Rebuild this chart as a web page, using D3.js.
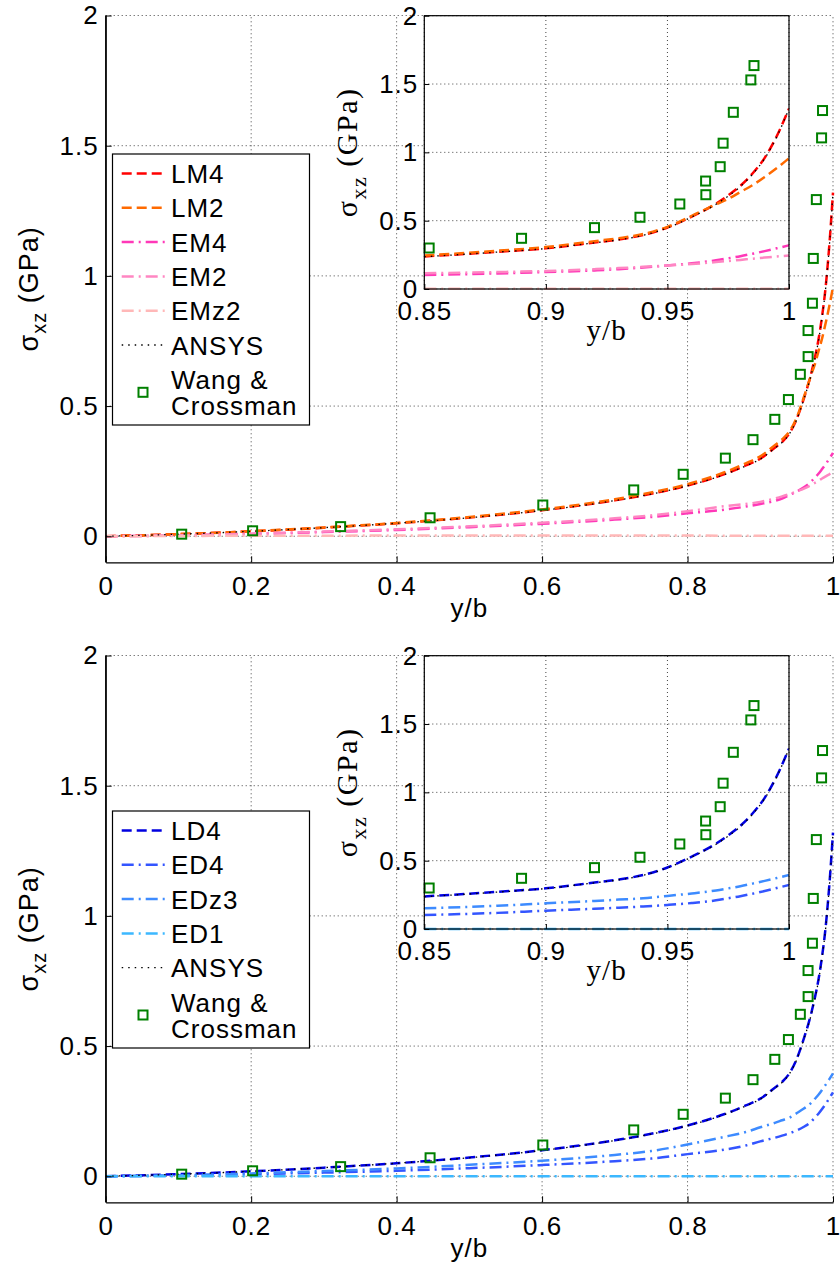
<!DOCTYPE html>
<html><head><meta charset="utf-8">
<script src="https://cdn.jsdelivr.net/npm/d3@7"></script>
<style>body{margin:0;background:#fff}svg{display:block}</style>
</head><body>
<script>
// ---------- DATA ----------
const xGrid = [0, 0.1, 0.2, 0.3, 0.4, 0.5, 0.6, 0.7, 0.75, 0.8, 0.85, 0.88, 0.9, 0.92, 0.93, 0.94, 0.95, 0.96, 0.97, 0.975, 0.98, 0.985, 0.99, 0.995, 1.0];

const LM4  = [0, 0.008, 0.019, 0.033, 0.05, 0.072, 0.10, 0.138, 0.163, 0.195, 0.238, 0.272, 0.298, 0.34, 0.362, 0.395, 0.45, 0.53, 0.625, 0.685, 0.755, 0.845, 0.96, 1.12, 1.32];
const LM2  = [0, 0.008, 0.019, 0.034, 0.051, 0.074, 0.103, 0.142, 0.168, 0.2, 0.245, 0.28, 0.307, 0.35, 0.372, 0.402, 0.455, 0.535, 0.62, 0.66, 0.71, 0.76, 0.82, 0.885, 0.957];
const EM4  = [0, 0.003, 0.009, 0.016, 0.024, 0.035, 0.048, 0.064, 0.074, 0.088, 0.102, 0.114, 0.124, 0.136, 0.145, 0.158, 0.172, 0.188, 0.21, 0.225, 0.24, 0.258, 0.277, 0.298, 0.32];
const EM2  = [0, 0.004, 0.01, 0.018, 0.027, 0.038, 0.052, 0.069, 0.08, 0.096, 0.115, 0.124, 0.132, 0.145, 0.153, 0.162, 0.172, 0.183, 0.197, 0.205, 0.213, 0.222, 0.23, 0.238, 0.245];
const EMz2 = [0, 0.001, 0.002, 0.002, 0.003, 0.003, 0.003, 0.003, 0.003, 0.003, 0.002, 0.002, 0.002, 0.002, 0.002, 0.002, 0.002, 0.002, 0.002, 0.002, 0.002, 0.002, 0.002, 0.002, 0.002];
const ANSYS = [0, 0.008, 0.019, 0.033, 0.05, 0.071, 0.099, 0.137, 0.162, 0.194, 0.236, 0.27, 0.296, 0.338, 0.36, 0.393, 0.447, 0.527, 0.62, 0.68, 0.75, 0.84, 0.955, 1.115, 1.32];

const LD4  = [0, 0.008, 0.019, 0.033, 0.05, 0.072, 0.10, 0.138, 0.163, 0.195, 0.238, 0.272, 0.298, 0.34, 0.362, 0.395, 0.45, 0.53, 0.625, 0.685, 0.755, 0.845, 0.96, 1.12, 1.32];
const ED4  = [0, 0.003, 0.008, 0.014, 0.021, 0.031, 0.043, 0.058, 0.068, 0.085, 0.102, 0.118, 0.134, 0.148, 0.156, 0.165, 0.176, 0.19, 0.21, 0.225, 0.24, 0.258, 0.278, 0.3, 0.322];
const EDz3 = [0, 0.004, 0.011, 0.02, 0.03, 0.044, 0.06, 0.082, 0.097, 0.122, 0.151, 0.17, 0.188, 0.205, 0.215, 0.225, 0.242, 0.26, 0.282, 0.297, 0.313, 0.332, 0.352, 0.373, 0.395];
const ED1  = [0, 0, 0, 0, 0, 0, 0, 0, 0, 0, 0, 0, 0, 0, 0, 0, 0, 0, 0, 0, 0, 0, 0, 0, 0];

const wangX = [0.1045, 0.202, 0.323, 0.446, 0.601, 0.726, 0.794, 0.852, 0.890, 0.920, 0.9387, 0.9551, 0.9658, 0.9657, 0.9717, 0.9729, 0.9771, 0.9843, 0.9856];
const wangY = [0.008, 0.021, 0.037, 0.071, 0.12, 0.178, 0.238, 0.30, 0.371, 0.449, 0.525, 0.622, 0.69, 0.79, 0.895, 1.067, 1.293, 1.53, 1.635];

const mainXTicks = [0, 0.2, 0.4, 0.6, 0.8, 1];
const mainYTicks = [0, 0.5, 1, 1.5, 2];
const insetXTicks = [0.85, 0.9, 0.95, 1];
const insetYTicks = [0, 0.5, 1, 1.5, 2];

const topSeries = [
  {name: "LM4", y: LM4, color: "#ff0000", dash: "10,5"},
  {name: "LM2", y: LM2, color: "#ff6a00", dash: "10,5"},
  {name: "EM4", y: EM4, color: "#ff38b8", dash: "12,5,2,5"},
  {name: "EM2", y: EM2, color: "#ff86c2", dash: "12,5,2,5"},
  {name: "EMz2", y: EMz2, color: "#ffb8b8", dash: "12,5,2,5"},
  {name: "ANSYS", y: ANSYS, color: "#000000", dash: "1.5,5", dotted: true}
];
const bottomSeries = [
  {name: "LD4", y: LD4, color: "#0000e0", dash: "10,5"},
  {name: "ED4", y: ED4, color: "#3355ff", dash: "12,5,2,5"},
  {name: "EDz3", y: EDz3, color: "#3d8bff", dash: "12,5,2,5"},
  {name: "ED1", y: ED1, color: "#3cb8ff", dash: "12,5,2,5"},
  {name: "ANSYS", y: ANSYS, color: "#000000", dash: "1.5,5", dotted: true}
];

// ---------- DRAW ----------
const W = 840, H = 1271;
const svg = d3.select("body").append("svg").attr("width", W).attr("height", H);
const SANS = "'Liberation Sans', Arial, sans-serif";
const SERIF = "'Liberation Serif', 'Times New Roman', serif";

let clipId = 0;
function drawPanel(oy, series, legendTop, legendH) {
  const g = svg.append("g").attr("transform", `translate(0,${oy})`);

  const x = d3.scaleLinear().domain([0, 1]).range([105.7, 833]);
  const y = d3.scaleLinear().domain([-0.1, 2]).range([562.3, 15.5]);

  const grid = g.append("g").attr("stroke", "#444").attr("stroke-width", 1).attr("stroke-dasharray", "1,3");
  mainXTicks.filter(t => t > 0).forEach(t => grid.append("line").attr("x1", x(t)).attr("x2", x(t)).attr("y1", y(-0.1)).attr("y2", y(2)));
  mainYTicks.forEach(t => grid.append("line").attr("x1", x(0)).attr("x2", x(1)).attr("y1", y(t)).attr("y2", y(t)));

  const cid = "clip" + (clipId++);
  g.append("clipPath").attr("id", cid).append("rect").attr("x", x(0)).attr("y", 0).attr("width", x(1) - x(0) + 8).attr("height", y(-0.1));

  const dataG = g.append("g").attr("clip-path", `url(#${cid})`);
  drawSeries(dataG, series, x, y, d => true);
  drawMarkers(dataG, x, y, d => true);

  const ax = g.append("g").attr("transform", `translate(0,${y(-0.1)})`)
    .call(d3.axisBottom(x).tickValues(mainXTicks).tickFormat(d => String(d)).tickSizeInner(-6).tickSizeOuter(0).tickPadding(14));
  const ay = g.append("g").attr("transform", `translate(${x(0)},0)`)
    .call(d3.axisLeft(y).tickValues(mainYTicks).tickFormat(d => String(d)).tickSizeInner(-6).tickSizeOuter(0).tickPadding(7));
  [ax, ay].forEach(a => {
    a.selectAll("text").attr("font-family", SANS).attr("font-size", 26).attr("fill", "#000").style("letter-spacing", "1px");
    a.selectAll("line").attr("stroke", "#000");
    a.select(".domain").attr("stroke", "#000").attr("stroke-width", 1.2);
  });
  g.append("line").attr("x1", x(0)).attr("x2", x(0)).attr("y1", y(2)).attr("y2", y(-0.1)).attr("stroke", "#000").attr("stroke-width", 1.2);

  g.append("text").attr("x", (x(0) + x(1)) / 2).attr("y", 617).attr("text-anchor", "middle")
    .attr("font-family", SANS).attr("font-size", 26).style("letter-spacing", "1px").text("y/b");
  const yl = g.append("text").attr("transform", `translate(38,${(y(2) + y(-0.1)) / 2}) rotate(-90)`)
    .attr("text-anchor", "middle").attr("font-family", SANS).attr("font-size", 27).style("letter-spacing", "1px");
  yl.append("tspan").text("σ");
  yl.append("tspan").attr("font-size", 20).attr("dy", 8).text("xz");
  yl.append("tspan").attr("dy", -8).text(" (GPa)");

  // ---------- inset ----------
  const ix = d3.scaleLinear().domain([0.85, 1]).range([424.3, 789]);
  const iy = d3.scaleLinear().domain([0, 2]).range([289, 15.7]);
  g.append("rect").attr("x", ix(0.85)).attr("y", iy(2)).attr("width", ix(1) - ix(0.85)).attr("height", iy(0) - iy(2)).attr("fill", "#fff");
  const igrid = g.append("g").attr("stroke", "#444").attr("stroke-width", 1).attr("stroke-dasharray", "1,3");
  insetXTicks.forEach(t => igrid.append("line").attr("x1", ix(t)).attr("x2", ix(t)).attr("y1", iy(0)).attr("y2", iy(2)));
  insetYTicks.forEach(t => igrid.append("line").attr("x1", ix(0.85)).attr("x2", ix(1)).attr("y1", iy(t)).attr("y2", iy(t)));

  const icid = "clip" + (clipId++);
  g.append("clipPath").attr("id", icid).append("rect").attr("x", ix(0.85) - 6).attr("y", iy(2)).attr("width", ix(1) - ix(0.85) + 6).attr("height", iy(0) - iy(2) + 2);
  const iData = g.append("g").attr("clip-path", `url(#${icid})`);
  drawSeries(iData, series, ix, iy, (d) => d[0] >= 0.85);
  drawMarkers(iData, ix, iy, (d) => d[0] >= 0.849);

  const iax = g.append("g").attr("transform", `translate(0,${iy(0)})`)
    .call(d3.axisBottom(ix).tickValues(insetXTicks).tickFormat(d => String(d)).tickSizeInner(-5).tickSizeOuter(0).tickPadding(13));
  const iay = g.append("g").attr("transform", `translate(${ix(0.85)},0)`)
    .call(d3.axisLeft(iy).tickValues(insetYTicks).tickFormat(d => String(d)).tickSizeInner(-5).tickSizeOuter(0).tickPadding(6));
  [iax, iay].forEach(a => {
    a.selectAll("text").attr("font-family", SANS).attr("font-size", 26).attr("fill", "#000").style("letter-spacing", "1px");
    a.selectAll("line").attr("stroke", "#000");
    a.select(".domain").remove();
  });
  g.append("rect").attr("x", ix(0.85)).attr("y", iy(2)).attr("width", ix(1) - ix(0.85)).attr("height", iy(0) - iy(2))
    .attr("fill", "none").attr("stroke", "#000").attr("stroke-width", 1.2);

  g.append("text").attr("x", (ix(0.85) + ix(1)) / 2).attr("y", 340).attr("text-anchor", "middle")
    .attr("font-family", SERIF).attr("font-size", 29).style("letter-spacing", "1px").text("y/b");
  const iyl = g.append("text").attr("transform", `translate(357,${(iy(0) + iy(2)) / 2}) rotate(-90)`)
    .attr("text-anchor", "middle").attr("font-family", SERIF).attr("font-size", 30).style("letter-spacing", "1.5px");
  iyl.append("tspan").text("σ");
  iyl.append("tspan").attr("font-size", 22).attr("dy", 9).text("xz");
  iyl.append("tspan").attr("dy", -9).text(" (GPa)");

  // ---------- legend ----------
  const lg = g.append("g");
  lg.append("rect").attr("x", 112.5).attr("y", legendTop).attr("width", 197).attr("height", legendH)
    .attr("fill", "#fff").attr("stroke", "#000").attr("stroke-width", 1.2);
  const rowH = 34.3, firstRow = legendTop + 19.5;
  series.forEach((s, i) => {
    const ry = firstRow + i * rowH;
    lg.append("line").attr("x1", 121.7).attr("x2", 166).attr("y1", ry).attr("y2", ry)
      .attr("stroke", s.color).attr("stroke-width", s.dotted ? 1.3 : 2.5).attr("stroke-dasharray", s.dash);
    lg.append("text").attr("x", 171).attr("y", ry + 9.5).attr("font-family", SANS).attr("font-size", 26)
      .style("letter-spacing", "1px").text(s.name);
  });
  const wr = firstRow + series.length * rowH;
  lg.append("rect").attr("x", 143 - 4.5).attr("y", wr + 13 - 4.5).attr("width", 9).attr("height", 9)
    .attr("fill", "none").attr("stroke", "#008000").attr("stroke-width", 2);
  lg.append("text").attr("x", 171).attr("y", wr + 9.5).attr("font-family", SANS).attr("font-size", 26).style("letter-spacing", "1px").text("Wang &");
  lg.append("text").attr("x", 171).attr("y", wr + 35.5).attr("font-family", SANS).attr("font-size", 26).style("letter-spacing", "1px").text("Crossman");
}

function drawSeries(sel, series, x, y, filt) {
  series.forEach(s => {
    const pts = xGrid.map((v, i) => [v, s.y[i]]).filter(filt);
    const line = d3.line().x(d => x(d[0])).y(d => y(d[1])).curve(d3.curveMonotoneX);
    sel.append("path").attr("d", line(pts)).attr("fill", "none")
      .attr("stroke", s.color).attr("stroke-width", s.dotted ? 1.3 : 2.5).attr("stroke-dasharray", s.dash);
  });
}
function drawMarkers(sel, x, y, filt) {
  const pts = wangX.map((v, i) => [v, wangY[i]]).filter(filt);
  sel.selectAll(null).data(pts).enter().append("rect")
    .attr("x", d => x(d[0]) - 4.5).attr("y", d => y(d[1]) - 4.5).attr("width", 9).attr("height", 9)
    .attr("fill", "none").attr("stroke", "#008000").attr("stroke-width", 2);
}

drawPanel(0, topSeries, 154, 271);
drawPanel(640, bottomSeries, 171, 237);
</script>
</body></html>
